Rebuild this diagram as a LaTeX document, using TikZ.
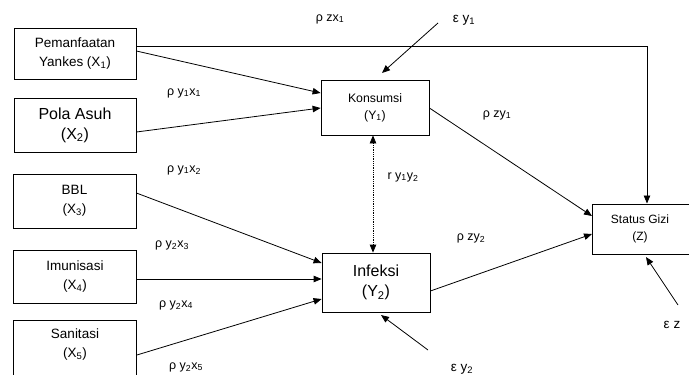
\documentclass[tikz,border=0pt]{standalone}
\usepackage{fontspec}
\setmainfont{Liberation Sans}
\usetikzlibrary{arrows.meta}
\newcommand{\lw}[1]{\textsubscript{#1}}
\begin{document}
\begin{tikzpicture}[x=1pt,y=-1pt,
  box/.style={draw,line width=0.8pt,align=center,inner sep=0pt,font=\fontsize{13.5}{19}\selectfont},
  arr/.style={line width=0.8pt,-{Triangle[length=8pt,width=6.5pt]}},
  lab/.style={font=\fontsize{12.5}{14}\selectfont,inner sep=0pt}]
\useasboundingbox (0,0) rectangle (689,375);
\fill[white] (0,0) rectangle (689,375);
% boxes
\node[box,minimum width=122pt,minimum height=51pt] (x1) at (75,53.5) {Pemanfaatan\\Yankes (X\lw{1})};
\node[box,minimum width=122pt,minimum height=54pt,font=\fontsize{16}{20}\selectfont] (x2) at (75,125) {Pola Asuh\\(X\lw{2})};
\node[box,minimum width=123pt,minimum height=54pt] (x3) at (74.5,201) {BBL\\(X\lw{3})};
\node[box,minimum width=123pt,minimum height=53pt] (x4) at (75,276.5) {Imunisasi\\(X\lw{4})};
\node[box,minimum width=123pt,minimum height=64pt,anchor=north] (x5) at (75,320) {};
\node[font=\fontsize{13.5}{19}\selectfont,align=center,anchor=north] (x5t) at (75,325) {Sanitasi\\(X\lw{5})};
\node[box,minimum width=108pt,minimum height=55pt,font=\fontsize{12.3}{17}\selectfont] (y1) at (375,107.5) {Konsumsi\\(Y\lw{1})};
\node[box,minimum width=108pt,minimum height=59pt,font=\fontsize{16}{20}\selectfont] (y2) at (376,282.5) {Infeksi\\(Y\lw{2})};
\node[box,minimum width=102pt,minimum height=50pt,anchor=north west] (z) at (592,203.5) {};
\node[font=\fontsize{12}{17}\selectfont,align=center] (zt) at (640,229) {Status Gizi\\(Z)};
% error terms
\node[lab,font=\fontsize{13.5}{15}\selectfont] (ey1) at (464,20) {ε y\lw{1}};
\node[lab,font=\fontsize{13.5}{15}\selectfont] (ey2) at (462,369) {ε y\lw{2}};
\node[lab,font=\fontsize{13.5}{15}\selectfont] (ez) at (672,325) {ε z};
\coordinate (ey1s) at (438,23);
\coordinate (ey2s) at (428,350);
\coordinate (ezs) at (678,305);
% connectors
\coordinate (corner) at (647,46);
\draw[arr] (x1.east |- 0,46) -- (corner) -- (z.north -| corner);
\draw[arr] (x1.east |- 0,51) -- (y1.west |- 0,93);
\draw[arr] (x2.east |- 0,132) -- (y1.west |- 0,108);
\draw[arr] (x3.east |- 0,193) -- (y2.west |- 0,263);
\draw[arr] (x4.east |- 0,279) -- (y2.west |- 0,279);
\draw[arr] (x5.east |- 0,355) -- (y2.west |- 0,299);
\draw[arr] (y1.east |- 0,108) -- (z.west |- 0,216);
\draw[arr] (y2.east |- 0,291) -- (z.west |- 0,234);
\draw[line width=0.8pt,densely dotted,{Triangle[length=8pt,width=6.5pt]}-{Triangle[length=8pt,width=6.5pt]}] (y1.south -| 373,0) -- (y2.north -| 373,0);
\draw[arr] (ey1s) -- (382,73);
\draw[arr] (ey2s) -- (381,315);
\draw[arr] (ezs) -- (646,257);
% path labels
\node[lab] (l1) at (330,19) {ρ zx\lw{1}};
\node[lab] (l2) at (184,93) {ρ y\lw{1}x\lw{1}};
\node[lab] (l3) at (184,170) {ρ y\lw{1}x\lw{2}};
\node[lab] (l4) at (172,245) {ρ y\lw{2}x\lw{3}};
\node[lab] (l5) at (176,305) {ρ y\lw{2}x\lw{4}};
\node[lab] (l6) at (186,367) {ρ y\lw{2}x\lw{5}};
\node[lab] (l7) at (497,115) {ρ zy\lw{1}};
\node[lab] (l8) at (471,238) {ρ zy\lw{2}};
\node[lab] (l9) at (403,177) {r y\lw{1}y\lw{2}};
\end{tikzpicture}
\end{document}
